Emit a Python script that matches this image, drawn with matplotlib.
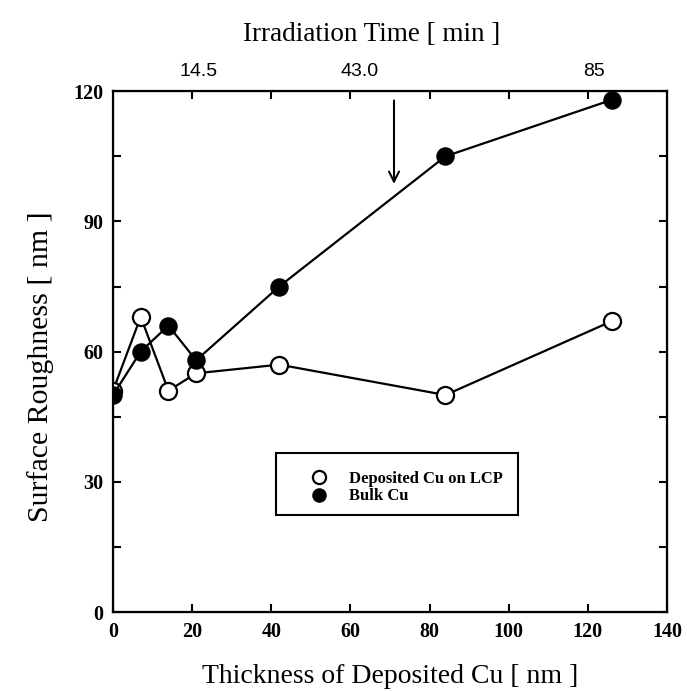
import numpy as np
import matplotlib
matplotlib.use('Agg')
import matplotlib.pyplot as plt
from matplotlib.patches import Rectangle
from matplotlib.ticker import MultipleLocator

# surface roughness vs deposited Cu thickness
thickness = [0, 7, 14, 21, 42, 84, 126]
rough_lcp = [51, 68, 51, 55, 57, 50, 67]
rough_bulk = [50, 60, 66, 58, 75, 105, 118]

# irradiation time labels on the top axis
time_pos = [21.7, 62.4, 121.5]
time_labels = ['14.5', '43.0', '85']

serif = ['Liberation Serif', 'DejaVu Serif']
plt.rcParams['font.family'] = serif

fig = plt.figure(figsize=(6.87, 6.91), dpi=100)
ax = fig.add_axes([0.1645, 0.1143, 0.8065, 0.7537])

ax.plot(thickness, rough_lcp, '-o', color='black', lw=1.6, ms=12.3,
        mfc='white', mec='black', mew=1.6, label='Deposited Cu on LCP', zorder=3)
ax.plot(thickness, rough_bulk, '-o', color='black', lw=1.6, ms=12.3,
        mfc='black', mec='black', label='Bulk Cu', zorder=4)

ax.set_xlim(0, 140)
ax.set_ylim(0, 120)
ax.xaxis.set_major_locator(MultipleLocator(20))
ax.yaxis.set_major_locator(MultipleLocator(30))
ax.yaxis.set_minor_locator(MultipleLocator(15))
ax.tick_params(which='both', direction='in', right=True,
               length=6, width=1.5, labelsize=14.5, pad=7)
for lb in ax.get_xticklabels() + ax.get_yticklabels():
    lb.set_fontweight('bold')
for s in ax.spines.values():
    s.set_linewidth(1.6)

ax.set_xlabel('Thickness of Deposited Cu [ nm ]', fontsize=20, labelpad=16)
ax.set_ylabel('Surface Roughness [ nm ]', fontsize=21.5, labelpad=14)
ax.yaxis.label.set_y(0.472)

# top axis: tick marks every 20 nm, time labels placed separately
top = ax.twiny()
top.set_xlim(ax.get_xlim())
top.set_xticks(np.arange(20, 140, 20), minor=True)
top.set_xticks(time_pos)
top.set_xticklabels(time_labels, family=['Liberation Sans', 'DejaVu Sans'])
top.tick_params(which='major', length=0, labelsize=14, pad=8)
top.tick_params(which='minor', direction='in', length=6, width=1.5)
top.set_xlabel('Irradiation Time [ min ]', fontsize=19.5, labelpad=16)
top.xaxis.label.set_x(0.4675)

ax.annotate('', xy=(71, 98), xytext=(71, 118.5),
            arrowprops=dict(arrowstyle='->', color='black', lw=1.5,
                            mutation_scale=18))

# legend frame drawn as a plain box, entries placed inside it
ax.add_patch(Rectangle((0.294, 0.186), 0.437, 0.119, transform=ax.transAxes,
                       fill=False, edgecolor='black', lw=1.5, zorder=5))
leg = ax.legend(loc='center left', bbox_to_anchor=(0.363, 0.239),
                frameon=False, prop={'family': serif, 'weight': 'bold', 'size': 12},
                handlelength=0.6, handletextpad=1.5, borderpad=0,
                labelspacing=0.1, markerscale=0.77, borderaxespad=0)
for h in leg.legend_handles:
    h.set_linestyle('')

fig.savefig('out.png', dpi=100)
